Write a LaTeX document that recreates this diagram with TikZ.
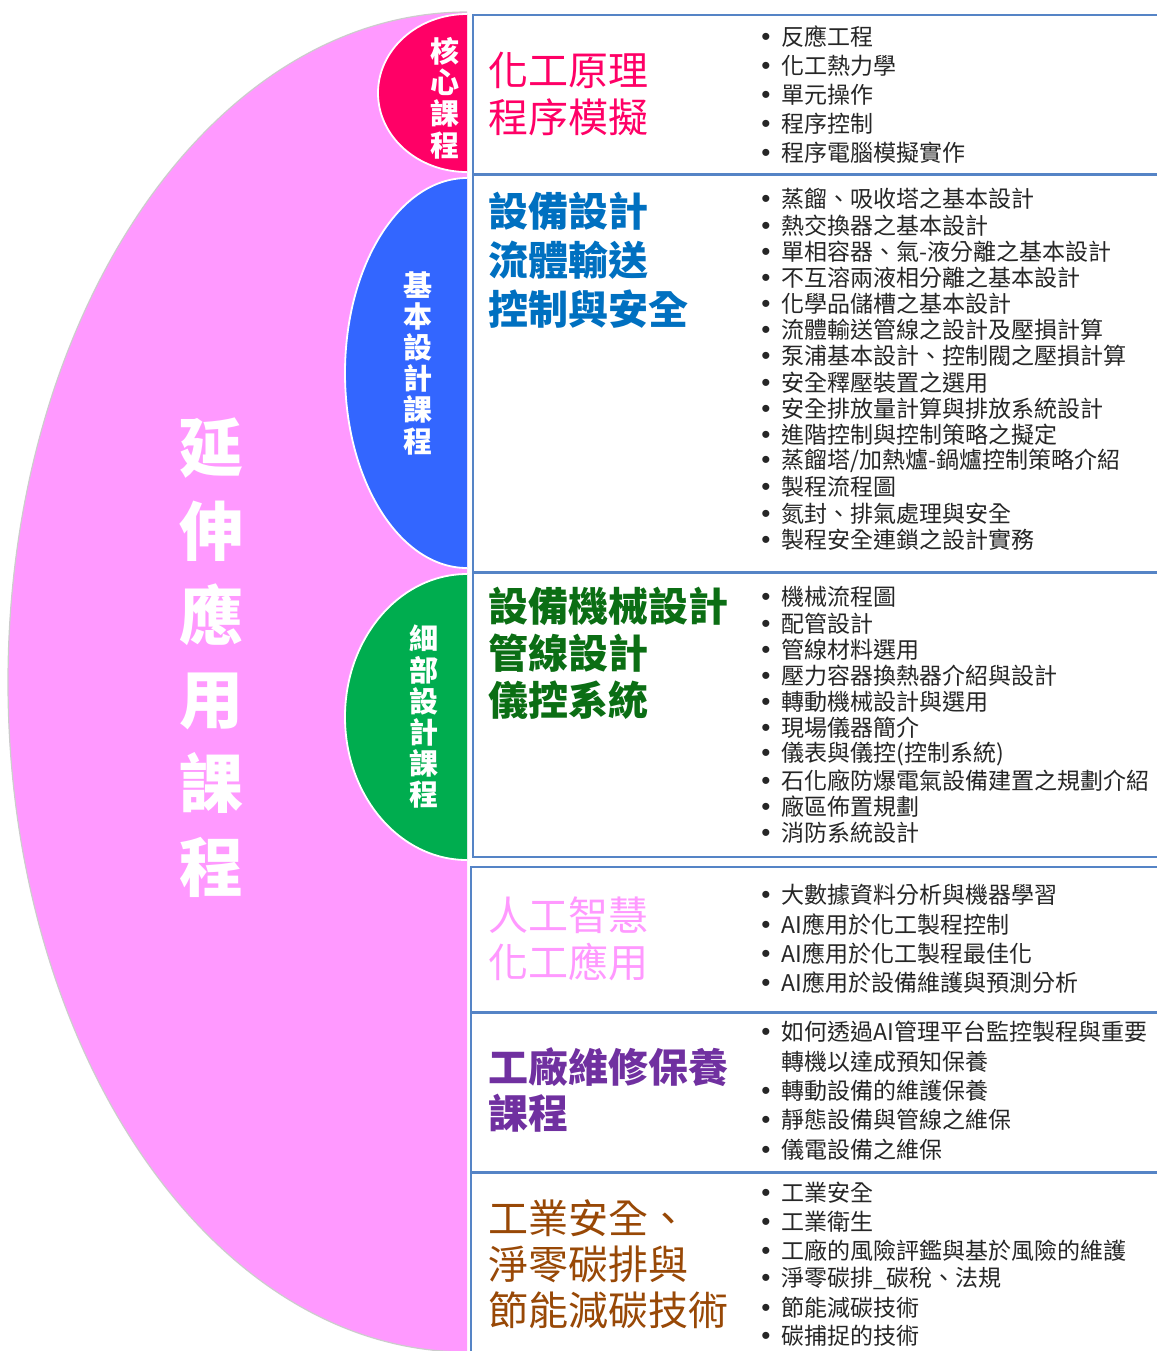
\documentclass[tikz,border=0pt]{standalone}
\usepackage{fontspec}
\setmainfont{Noto Sans CJK TC}
\newfontfamily\bulfont{Liberation Sans}
\definecolor{pinkbg}{HTML}{FF99FF}
\definecolor{corered}{HTML}{FF0066}
\definecolor{basicblue}{HTML}{3366FF}
\definecolor{detailgreen}{HTML}{00AD4F}
\definecolor{frameblue}{HTML}{5584C6}
\definecolor{itemgray}{HTML}{262626}
\definecolor{tblue}{HTML}{0070C0}
\definecolor{tgreen}{HTML}{0B6E14}
\definecolor{tpurple}{HTML}{7030A0}
\definecolor{tbrown}{HTML}{984806}
\newcommand\itm[1]{\llap{{\bulfont\fontsize{13pt}{13pt}\selectfont •}\hspace{5.5pt}}#1}
\begin{document}
\begin{tikzpicture}[x=0.5pt,y=-0.5pt,
  boxframe/.style={draw=frameblue, line width=1.1pt, fill=white},
  itemtext/.style={anchor=west, inner sep=0pt, text=itemgray, font=\fontsize{11.5pt}{13pt}\selectfont},
  titletext/.style={anchor=west, inner sep=0pt, align=left, font=\fontsize{20pt}{23.5pt}\selectfont},
  semilabel/.style={text=white, align=center, inner sep=0pt, font=\fontsize{14.5pt}{15.6pt}\selectfont\bfseries},
  biglabel/.style={text=white, align=center, inner sep=0pt, font=\fontsize{32pt}{42pt}\selectfont\bfseries},
]
\useasboundingbox (0,0) rectangle (1157,1351);
\clip (0,0) rectangle (1157,1351);

% ---- left half-ellipses ----
\begin{scope}
  \clip (0,0) rectangle (467,1400);
  \fill[pinkbg, draw=white!80!black, line width=0.6pt] (467,682) ellipse [x radius=229.5pt, y radius=335pt];
  \fill[corered, draw=white, line width=0.9pt] (467,93) ellipse [x radius=44.5pt, y radius=39.5pt];
  \fill[basicblue, draw=white, line width=0.9pt] (467,373) ellipse [x radius=61pt, y radius=97.5pt];
  \fill[detailgreen, draw=white, line width=0.9pt] (467,717) ellipse [x radius=61pt, y radius=71.5pt];
\end{scope}

\node[biglabel] (ext) at (211,658) {延\\伸\\應\\用\\課\\程};
\node[semilabel] (core) at (445,98) {核\\心\\課\\程};
\node[semilabel] (basic) at (418,363) {基\\本\\設\\計\\課\\程};
\node[semilabel] (detail) at (424,717) {細\\部\\設\\計\\課\\程};

% ---- right boxes ----
\draw[boxframe] (473,15) rectangle (1175,174);
\draw[boxframe] (473,175) rectangle (1175,572);
\draw[boxframe] (473,573) rectangle (1175,857);
\draw[boxframe] (471,867) rectangle (1175,1012);
\draw[boxframe] (471,1013) rectangle (1175,1172);
\draw[boxframe] (471,1173) rectangle (1175,1380);

% ---- titles ----
\node[titletext, text=corered] (t1) at (488,93.5) {化工原理\\程序模擬};
\node[titletext, text=tblue, font=\fontsize{20pt}{24.5pt}\selectfont\bfseries] (t2) at (488,260) {設備設計\\流體輸送\\控制與安全};
\node[titletext, text=tgreen, font=\fontsize{20pt}{23.5pt}\selectfont\bfseries] (t3) at (488,653) {設備機械設計\\管線設計\\儀控系統};
\node[titletext, text=pinkbg] (t4) at (488,938.5) {人工智慧\\化工應用};
\node[titletext, text=tpurple, font=\fontsize{20pt}{23pt}\selectfont\bfseries] (t5) at (488,1090) {工廠維修保養\\課程};
\node[titletext, text=tbrown, font=\fontsize{20pt}{23pt}\selectfont] (t6) at (488,1264) {工業安全、\\淨零碳排與\\節能減碳技術};

% ---- item lists ----
\foreach \t [count=\i] in {反應工程,化工熱力學,單元操作,程序控制,程序電腦模擬實作}
  \node[itemtext] (a\i) at (781,{37+(\i-1)*29}) {\itm{\t}};

\foreach \t [count=\i] in {蒸餾、吸收塔之基本設計,熱交換器之基本設計,單相容器、氣-液分離之基本設計,不互溶兩液相分離之基本設計,化學品儲槽之基本設計,流體輸送管線之設計及壓損計算,泵浦基本設計、控制閥之壓損計算,安全釋壓裝置之選用,安全排放量計算與排放系統設計,進階控制與控制策略之擬定,蒸餾塔/加熱爐-鍋爐控制策略介紹,製程流程圖,氮封、排氣處理與安全,製程安全連鎖之設計實務}
  \node[itemtext] (b\i) at (781,{199+(\i-1)*26.2}) {\itm{\t}};

\foreach \t [count=\i] in {機械流程圖,配管設計,管線材料選用,壓力容器換熱器介紹與設計,轉動機械設計與選用,現場儀器簡介,儀表與儀控(控制系統),石化廠防爆電氣設備建置之規劃介紹,廠區佈置規劃,消防系統設計}
  \node[itemtext] (c\i) at (781,{597+(\i-1)*26.2}) {\itm{\t}};

\foreach \t [count=\i] in {大數據資料分析與機器學習,AI應用於化工製程控制,AI應用於化工製程最佳化,AI應用於設備維護與預測分析}
  \node[itemtext] (d\i) at (781,{895+(\i-1)*29.3}) {\itm{\t}};

\node[itemtext] (e1) at (781,1032) {\itm{如何透過AI管理平台監控製程與重要}};
\node[itemtext] (e1b) at (781,1062) {轉機以達成預知保養};
\node[itemtext] (e2) at (781,1091) {\itm{轉動設備的維護保養}};
\node[itemtext] (e3) at (781,1120) {\itm{靜態設備與管線之維保}};
\node[itemtext] (e4) at (781,1150) {\itm{儀電設備之維保}};

\foreach \t [count=\i] in {工業安全,工業衛生,工廠的風險評鑑與基於風險的維護,淨零碳排\_碳稅、法規,節能減碳技術,碳捕捉的技術}
  \node[itemtext] (f\i) at (781,{1193+(\i-1)*28.6}) {\itm{\t}};
\end{tikzpicture}
\end{document}
